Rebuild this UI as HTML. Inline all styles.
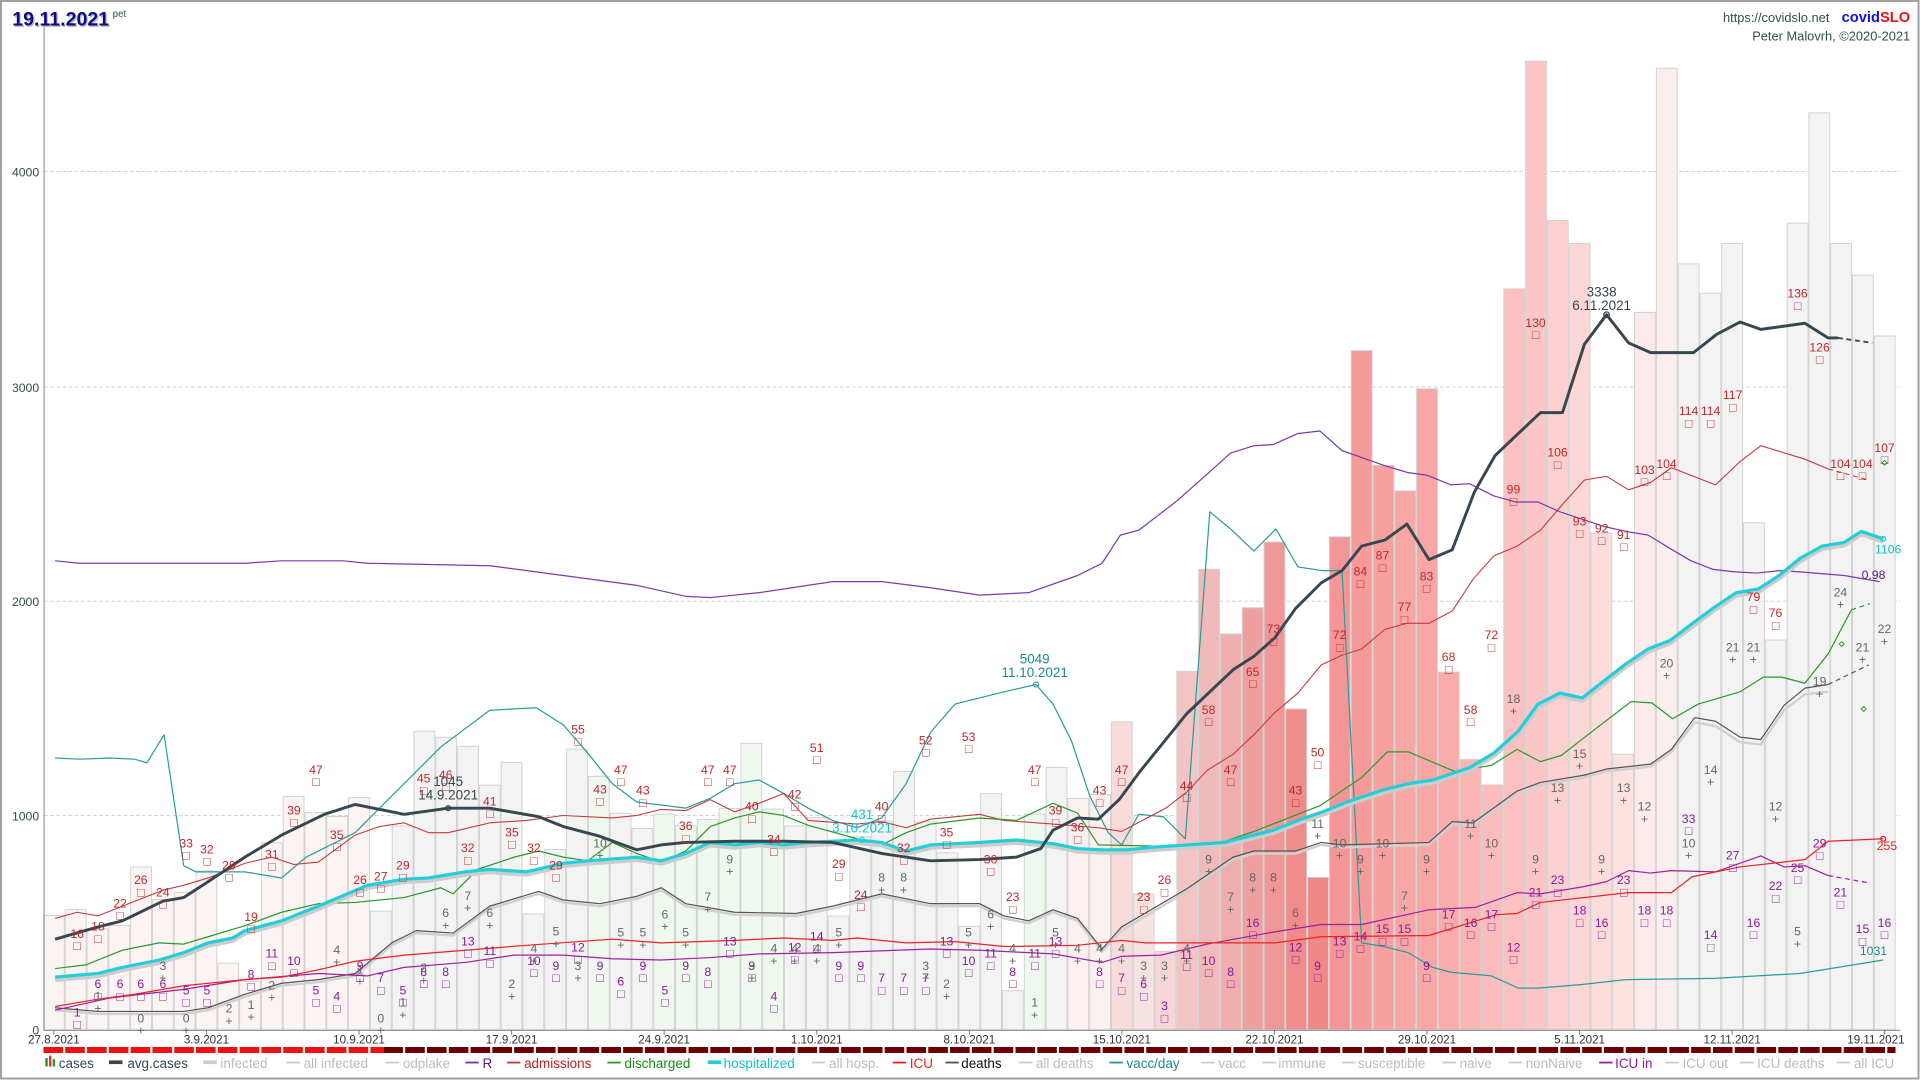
<!DOCTYPE html>
<html><head><meta charset="utf-8"><style>
html,body{margin:0;padding:0;background:#fff}
svg{display:block}
text{font-family:"Liberation Sans Narrow","Liberation Sans",sans-serif}
.r{fill:#c0282c;font-size:10px;text-anchor:middle}
.p{fill:#8a1a9a;font-size:10px;text-anchor:middle}
.g{fill:#666;font-size:10px;text-anchor:middle}
.lg{font-size:11px}
</style></head><body>
<svg width="1920" height="1080" viewBox="0 0 1568 882" preserveAspectRatio="none" xmlns="http://www.w3.org/2000/svg">
<rect x="0.8" y="0.8" width="1566" height="880" fill="#fff" stroke="#999" stroke-width="1.5"/>
<g stroke="#ccc" stroke-dasharray="3,2" stroke-width="0.7">
<line x1="36" y1="140" x2="1552" y2="140"/><line x1="36" y1="316" x2="1552" y2="316"/><line x1="36" y1="491" x2="1552" y2="491"/><line x1="36" y1="666" x2="1552" y2="666"/>
</g>
<g fill="#2f4f4f" font-size="10" text-anchor="end">
<text x="32" y="144">4000</text><text x="32" y="320">3000</text><text x="32" y="495">2000</text><text x="32" y="670">1000</text><text x="32" y="845">0</text>
</g>
<g stroke="#d2d2d2" stroke-width="0.8">
<g fill="#fcf3f3">
<rect x="35.5" y="747.6" width="17" height="93.4"/><rect x="53.3" y="742.9" width="17" height="98.1"/><rect x="71.1" y="758.6" width="17" height="82.4"/><rect x="88.9" y="755.8" width="17" height="85.2"/><rect x="106.7" y="708" width="17" height="133"/><rect x="124.5" y="734.6" width="17" height="106.4"/><rect x="142.3" y="728.8" width="17" height="112.2"/><rect x="160.1" y="711.3" width="17" height="129.7"/><rect x="177.9" y="786.5" width="17" height="54.5"/><rect x="195.7" y="801.4" width="17" height="39.6"/><rect x="213.5" y="688.2" width="17" height="152.8"/><rect x="231.3" y="650.5" width="17" height="190.5"/><rect x="249.1" y="663.6" width="17" height="177.4"/><rect x="266.9" y="666.8" width="17" height="174.2"/><rect x="284.7" y="651.4" width="17" height="189.6"/>
</g>
<g fill="#f3f3f3">
<rect x="302.5" y="744.1" width="17" height="96.9"/><rect x="320.3" y="674.5" width="17" height="166.5"/><rect x="338.1" y="597.2" width="17" height="243.8"/><rect x="355.9" y="602.1" width="17" height="238.9"/><rect x="373.7" y="609.5" width="17" height="231.5"/><rect x="391.5" y="641.2" width="17" height="199.8"/><rect x="409.3" y="622.6" width="17" height="218.4"/><rect x="427.1" y="746.4" width="17" height="94.6"/><rect x="444.9" y="693.8" width="17" height="147.2"/><rect x="462.7" y="611.8" width="17" height="229.2"/>
<rect x="498.3" y="664.2" width="17" height="176.8"/><rect x="516.1" y="676.6" width="17" height="164.4"/><rect x="640.7" y="674.5" width="17" height="166.5"/><rect x="658.5" y="667.7" width="17" height="173.3"/><rect x="676.3" y="748.1" width="17" height="92.9"/><rect x="694.1" y="683.3" width="17" height="157.7"/><rect x="711.9" y="670.5" width="17" height="170.5"/><rect x="729.7" y="630" width="17" height="211"/><rect x="747.5" y="671.2" width="17" height="169.8"/><rect x="765.3" y="696.4" width="17" height="144.6"/><rect x="783.1" y="756.4" width="17" height="84.6"/><rect x="800.9" y="648.2" width="17" height="192.8"/><rect x="818.7" y="809.1" width="17" height="31.9"/>
<rect x="1423.9" y="426.9" width="17" height="414.1"/><rect x="1441.7" y="522.7" width="17" height="318.3"/><rect x="1459.5" y="182.2" width="17" height="658.8"/><rect x="1477.3" y="92.2" width="17" height="748.8"/><rect x="1495.1" y="198.9" width="17" height="642.1"/><rect x="1512.9" y="224.8" width="17" height="616.2"/><rect x="1530.7" y="274.4" width="17" height="566.6"/>
<rect x="1370.5" y="215.5" width="17" height="625.5"/><rect x="1388.3" y="239.5" width="17" height="601.5"/><rect x="1406.1" y="198.9" width="17" height="642.1"/>
</g>
<g fill="#eef8ee">
<rect x="480.5" y="634" width="17" height="207"/><rect x="533.9" y="664.9" width="17" height="176.1"/><rect x="551.7" y="674.5" width="17" height="166.5"/><rect x="569.5" y="669.3" width="17" height="171.7"/><rect x="587.3" y="660.3" width="17" height="180.7"/><rect x="605.1" y="607" width="17" height="234"/><rect x="622.9" y="660.8" width="17" height="180.2"/><rect x="836.5" y="664.9" width="17" height="176.1"/>
</g>
<rect x="854.3" y="626.7" width="17" height="214.3" fill="#f3f3f3"/><rect x="872.1" y="652.1" width="17" height="188.9" fill="#fbf0f0"/><rect x="889.9" y="648.8" width="17" height="192.2" fill="#fbf0f0"/>
<rect x="907.7" y="589.5" width="17" height="251.5" fill="#f8dcdc"/><rect x="925.5" y="730.1" width="17" height="110.9" fill="#f7e2e2"/><rect x="943.3" y="777" width="17" height="64" fill="#f5d5d5"/><rect x="961.1" y="548.3" width="17" height="292.7" fill="#f3c4c4"/><rect x="978.9" y="464.9" width="17" height="376.1" fill="#f1baba"/><rect x="996.7" y="517.7" width="17" height="323.3" fill="#f0adad"/><rect x="1014.5" y="496.3" width="17" height="344.7" fill="#eea0a0"/><rect x="1032.3" y="442.7" width="17" height="398.3" fill="#f09898"/><rect x="1050.1" y="579" width="17" height="262" fill="#f08c8c"/><rect x="1067.9" y="716.6" width="17" height="124.4" fill="#f08888"/><rect x="1085.7" y="438.4" width="17" height="402.6" fill="#f59696"/><rect x="1103.5" y="286.3" width="17" height="554.7" fill="#f79a9a"/><rect x="1121.3" y="380.1" width="17" height="460.9" fill="#f8a0a0"/><rect x="1139.1" y="400.9" width="17" height="440.1" fill="#f9a6a6"/><rect x="1156.9" y="317.5" width="17" height="523.5" fill="#f9a6a6"/><rect x="1174.7" y="548.9" width="17" height="292.1" fill="#faacac"/><rect x="1192.5" y="620.2" width="17" height="220.8" fill="#fbb4b4"/><rect x="1210.3" y="641" width="17" height="200" fill="#fbbcbc"/><rect x="1228.1" y="235.9" width="17" height="605.1" fill="#fcc0c0"/><rect x="1245.9" y="49.9" width="17" height="791.1" fill="#fcc6c6"/><rect x="1263.7" y="180.1" width="17" height="660.9" fill="#fdd0d0"/><rect x="1281.5" y="198.9" width="17" height="642.1" fill="#fdd6d6"/><rect x="1299.3" y="435.3" width="17" height="405.7" fill="#fddcdc"/><rect x="1317.1" y="616" width="17" height="225" fill="#fde2e2"/><rect x="1334.9" y="255.1" width="17" height="585.9" fill="#fdeaea"/><rect x="1352.7" y="55.7" width="17" height="785.3" fill="#fdeeee"/>
</g>
<line x1="36" y1="22" x2="36" y2="842" stroke="#999" stroke-width="1"/>
<line x1="36" y1="841.5" x2="1552" y2="841.5" stroke="#999" stroke-width="1"/>
<g fill="none" stroke-linejoin="round">
<polyline stroke="#2a9d9a" stroke-width="1" points="45,619 65,620 90,619 110,620 120,623 134,600 150,707 160,712 200,712 230,717 250,700 290,680 330,640 360,610 400,580 438,578 460,592 480,615 500,640 520,655 560,660 580,652 600,640 620,637 640,648 660,660 680,670 700,676 720,668 740,640 760,598 780,575 800,570 820,565 846,559 860,575 875,605 890,650 905,680 916,690 930,665 950,667 968,685 988,418 1005,432 1024,450 1042,432 1060,463 1080,466 1096,466 1112,770 1130,773 1150,778 1170,790 1185,794 1218,797 1240,807 1256,807 1292,804 1328,800 1400,799 1470,795 1538,784"/>
<polyline stroke="#7a3aa8" stroke-width="1" points="45,458 65,460 200,460 230,458 280,458 300,460 400,462 460,470 520,478 560,487 580,488 620,484 680,475 720,475 760,480 800,486 840,484 880,470 900,460 915,437 930,433 960,410 985,388 1005,370 1024,364 1040,363 1060,354 1078,352 1096,368 1113,374 1130,380 1150,386 1165,388 1185,396 1200,395 1220,405 1238,410 1256,410 1274,418 1292,424 1310,430 1328,434 1346,437 1364,448 1381,458 1399,465 1417,467 1435,468 1453,466 1470,467 1506,470 1535,475"/>
<polyline stroke="#c43b3b" stroke-width="0.9" points="45,750 63,745 80,748 100,740 133,727 150,723 170,717 200,705 222,700 240,706 260,704 290,682 310,675 330,672 350,680 366,680 400,672 430,670 460,666 500,668 520,666 540,661 560,662 580,653 600,663 620,656 640,648 660,670 700,673 720,671 740,676 760,669 800,665 820,670 860,673 897,676 916,679 952,660 969,647 986,629 1007,616 1024,600 1041,582 1060,566 1079,543 1096,535 1112,530 1131,514 1149,509 1167,509 1186,499 1203,473 1220,454 1239,446 1258,433 1276,412 1294,392 1312,389 1330,400 1348,394 1365,382 1401,396 1421,377 1438,364 1474,375 1493,383"/>
<polyline stroke="#c43b3b" stroke-width="0.9" stroke-dasharray="4,3" points="1493,383 1526,392"/>
<polyline stroke="#d0d0d0" stroke-width="2" points="45,825 80,828 150,828 170,825 200,814 230,805 260,802 290,797 320,772 340,762 370,764 400,742 440,730 460,737 490,740 520,734 540,727 560,740 600,747 650,748 680,742 720,732 760,740 800,740 820,750 840,754 860,745 880,752 900,777 916,760 969,728 1007,702 1024,697 1058,697 1079,690 1096,692 1167,690 1186,673 1203,674 1239,648 1258,641 1294,635 1312,630 1348,626 1365,614 1384,590 1401,593 1421,606 1438,608 1457,580 1474,567 1493,565"/>
<polyline stroke="#555" stroke-width="1" points="45,823 80,826 150,826 170,823 200,812 230,803 260,800 290,795 320,770 340,760 370,762 400,740 440,728 460,735 490,738 520,732 540,725 560,738 600,745 650,746 680,740 720,730 760,738 800,738 820,748 840,752 860,743 880,750 900,775 916,757 969,726 1007,700 1024,695 1058,695 1079,688 1096,690 1167,688 1186,671 1203,672 1239,646 1258,639 1294,633 1312,628 1348,624 1365,612 1384,586 1401,589 1421,602 1438,604 1457,576 1474,562 1493,559"/>
<polyline stroke="#555" stroke-width="1" stroke-dasharray="4,3" points="1493,559 1526,543"/>
<polyline stroke="#a020a0" stroke-width="1" points="45,825 90,815 150,808 200,800 260,795 300,797 330,790 380,786 420,780 460,780 500,783 540,784 580,782 620,779 680,778 760,775 800,776 860,779 900,786 916,781 948,780 986,771 1041,761 1079,755 1112,755 1167,743 1205,741 1239,729 1258,730 1294,724 1312,720 1330,711 1348,713 1365,711 1401,712 1438,699 1457,708 1474,707 1493,715"/>
<polyline stroke="#a020a0" stroke-width="1" stroke-dasharray="4,3" points="1493,715 1526,721"/>
<polyline stroke="#ee2222" stroke-width="1" points="45,822 80,816 110,812 150,805 200,800 230,798 260,792 290,785 330,780 380,776 430,772 500,767 540,770 600,768 640,766 680,768 700,766 740,770 780,769 820,773 880,772 916,768 935,770 1041,770 1079,765 1167,764 1222,747 1239,746 1258,737 1330,729 1365,729 1382,716 1421,708 1474,702 1493,687 1538,685"/>
<polyline stroke="#2a9a2a" stroke-width="1" points="45,791 70,788 100,776 130,770 150,771 170,765 200,756 230,745 260,738 290,737 330,733 360,725 370,730 390,710 420,700 440,695 460,700 480,703 500,688 520,697 540,704 560,695 580,675 600,668 620,663 640,666 660,674 700,685 720,690 740,680 760,673 800,668 830,670 860,656 880,664 897,690 986,692 1024,679 1078,658 1112,635 1133,614 1150,614 1188,630 1218,625 1239,612 1258,622 1275,617 1302,596 1332,573 1349,574 1366,587 1387,575 1421,565 1440,553 1455,553 1474,558 1493,534 1512,498"/>
<polyline stroke="#2a9a2a" stroke-width="1" stroke-dasharray="4,3" points="1512,498 1527,493"/>
<polyline stroke="#ccc" stroke-width="5" transform="translate(0,1.5)" points="45,798 80,795 100,790 130,784 150,778 170,770 190,766 200,760 230,752 260,740 300,723 330,718 350,717 380,712 400,710 430,712 460,705 480,703 520,700 540,703 560,697 580,688 600,690 620,688 640,690 660,688 700,686 720,688 740,695 760,690 800,688 830,686 860,689 880,693 900,694 920,694 940,692 970,690 1000,688 1040,678 1060,670 1080,663 1100,655 1130,645 1150,640 1170,637 1200,627 1220,615 1240,597 1256,575 1274,566 1292,570 1310,556 1328,542 1346,530 1364,523 1381,510 1400,496 1418,484 1436,481 1453,470 1470,456 1488,446 1506,443 1520,434 1538,440"/>
<polyline stroke="#22cfd8" stroke-width="2.6" points="45,798 80,795 100,790 130,784 150,778 170,770 190,766 200,760 230,752 260,740 300,723 330,718 350,717 380,712 400,710 430,712 460,705 480,703 520,700 540,703 560,697 580,688 600,690 620,688 640,690 660,688 700,686 720,688 740,695 760,690 800,688 830,686 860,689 880,693 900,694 920,694 940,692 970,690 1000,688 1040,678 1060,670 1080,663 1100,655 1130,645 1150,640 1170,637 1200,627 1220,615 1240,597 1256,575 1274,566 1292,570 1310,556 1328,542 1346,530 1364,523 1381,510 1400,496 1418,484 1436,481 1453,470 1470,456 1488,446 1506,443 1520,434 1538,440"/>
<polyline stroke="#37474f" stroke-width="2.4" points="45,767 80,757 100,752 133,736 150,733 170,720 200,700 230,682 265,665 290,657 330,665 366,660 400,660 440,667 460,675 490,683 520,694 540,690 560,688 600,687 640,687 680,688 720,697 760,703 800,702 830,700 850,693 860,678 880,668 897,669 914,653 931,630 969,583 1007,547 1024,536 1041,521 1058,497 1079,476 1096,466 1112,446 1131,441 1149,428 1167,457 1186,449 1204,402 1221,372 1240,354 1258,337 1276,337 1294,281 1312,257 1330,280 1348,288 1383,288 1402,273 1421,263 1438,269 1474,264 1493,276 1501,276"/>
<polyline stroke="#37474f" stroke-width="1.5" stroke-dasharray="4,3" points="1501,276 1529,280"/>
</g>
<g fill="none" stroke-width="1">
<circle cx="366" cy="660" r="2" stroke="#37474f"/><circle cx="1312" cy="257" r="2.3" stroke="#37474f"/><circle cx="704" cy="686" r="2" stroke="#22cfd8"/><circle cx="846" cy="559" r="2" stroke="#2a9d9a"/><circle cx="1538" cy="440" r="2" stroke="#22cfd8"/><circle cx="1538" cy="685" r="2" stroke="#ee2222"/>
</g>
<g font-size="11" text-anchor="middle">
<text x="366" y="642" fill="#37474f">1045</text><text x="366" y="653" fill="#37474f">14.9.2021</text>
<text x="704" y="669" fill="#16c4cc">431</text><text x="704" y="680" fill="#16c4cc">3.10.2021</text>
<text x="845" y="542" fill="#1a8d8a">5049</text><text x="845" y="553" fill="#1a8d8a">11.10.2021</text>
<text x="1308" y="242" fill="#37474f">3338</text><text x="1308" y="253" fill="#37474f">6.11.2021</text>
</g>
<g font-size="10" text-anchor="middle">
<text x="1530" y="473" fill="#5a1a8a">0.98</text><text x="1542" y="452" fill="#16c4cc">1106</text><text x="1530" y="780" fill="#1a8d8a">1031</text><text x="1541" y="694" fill="#ee2222">255</text>
</g>
<g class="r">
<text x="63" y="766">16<tspan x="63" dy="10">□</tspan></text><text x="80" y="760">18<tspan x="80" dy="10">□</tspan></text><text x="98" y="741">22<tspan x="98" dy="10">□</tspan></text><text x="115" y="722">26<tspan x="115" dy="10">□</tspan></text><text x="133" y="732">24<tspan x="133" dy="10">□</tspan></text><text x="152" y="692">33<tspan x="152" dy="10">□</tspan></text><text x="169" y="697">32<tspan x="169" dy="10">□</tspan></text><text x="187" y="710">29<tspan x="187" dy="10">□</tspan></text><text x="205" y="752">19<tspan x="205" dy="10">□</tspan></text><text x="222" y="701">31<tspan x="222" dy="10">□</tspan></text><text x="240" y="665">39<tspan x="240" dy="10">□</tspan></text><text x="258" y="632">47<tspan x="258" dy="10">□</tspan></text><text x="275" y="685">35<tspan x="275" dy="10">□</tspan></text><text x="294" y="722">26<tspan x="294" dy="10">□</tspan></text><text x="311" y="719">27<tspan x="311" dy="10">□</tspan></text><text x="329" y="710">29<tspan x="329" dy="10">□</tspan></text><text x="346" y="639">45<tspan x="346" dy="10">□</tspan></text><text x="364" y="636">46<tspan x="364" dy="10">□</tspan></text><text x="382" y="696">32<tspan x="382" dy="10">□</tspan></text><text x="400" y="658">41<tspan x="400" dy="10">□</tspan></text><text x="418" y="683">35<tspan x="418" dy="10">□</tspan></text><text x="436" y="696">32<tspan x="436" dy="10">□</tspan></text><text x="454" y="710">29<tspan x="454" dy="10">□</tspan></text><text x="472" y="599">55<tspan x="472" dy="10">□</tspan></text><text x="490" y="648">43<tspan x="490" dy="10">□</tspan></text><text x="507" y="632">47<tspan x="507" dy="10">□</tspan></text><text x="525" y="649">43<tspan x="525" dy="10">□</tspan></text><text x="560" y="678">36<tspan x="560" dy="10">□</tspan></text><text x="578" y="632">47<tspan x="578" dy="10">□</tspan></text><text x="596" y="632">47<tspan x="596" dy="10">□</tspan></text><text x="614" y="662">40<tspan x="614" dy="10">□</tspan></text><text x="632" y="689">34<tspan x="632" dy="10">□</tspan></text><text x="649" y="652">42<tspan x="649" dy="10">□</tspan></text><text x="667" y="614">51<tspan x="667" dy="10">□</tspan></text><text x="685" y="709">29<tspan x="685" dy="10">□</tspan></text><text x="703" y="734">24<tspan x="703" dy="10">□</tspan></text><text x="720" y="662">40<tspan x="720" dy="10">□</tspan></text><text x="738" y="696">32<tspan x="738" dy="10">□</tspan></text><text x="756" y="608">52<tspan x="756" dy="10">□</tspan></text><text x="773" y="683">35<tspan x="773" dy="10">□</tspan></text><text x="791" y="605">53<tspan x="791" dy="10">□</tspan></text><text x="809" y="705">30<tspan x="809" dy="10">□</tspan></text><text x="827" y="736">23<tspan x="827" dy="10">□</tspan></text><text x="845" y="632">47<tspan x="845" dy="10">□</tspan></text><text x="862" y="665">39<tspan x="862" dy="10">□</tspan></text><text x="880" y="679">36<tspan x="880" dy="10">□</tspan></text><text x="898" y="649">43<tspan x="898" dy="10">□</tspan></text><text x="916" y="632">47<tspan x="916" dy="10">□</tspan></text><text x="934" y="736">23<tspan x="934" dy="10">□</tspan></text><text x="951" y="722">26<tspan x="951" dy="10">□</tspan></text><text x="969" y="645">44<tspan x="969" dy="10">□</tspan></text><text x="987" y="583">58<tspan x="987" dy="10">□</tspan></text><text x="1005" y="632">47<tspan x="1005" dy="10">□</tspan></text><text x="1023" y="552">65<tspan x="1023" dy="10">□</tspan></text><text x="1040" y="517">73<tspan x="1040" dy="10">□</tspan></text><text x="1058" y="649">43<tspan x="1058" dy="10">□</tspan></text><text x="1076" y="618">50<tspan x="1076" dy="10">□</tspan></text><text x="1094" y="522">72<tspan x="1094" dy="10">□</tspan></text><text x="1111" y="470">84<tspan x="1111" dy="10">□</tspan></text><text x="1129" y="457">87<tspan x="1129" dy="10">□</tspan></text><text x="1147" y="499">77<tspan x="1147" dy="10">□</tspan></text><text x="1165" y="474">83<tspan x="1165" dy="10">□</tspan></text><text x="1183" y="540">68<tspan x="1183" dy="10">□</tspan></text><text x="1201" y="583">58<tspan x="1201" dy="10">□</tspan></text><text x="1218" y="522">72<tspan x="1218" dy="10">□</tspan></text><text x="1236" y="403">99<tspan x="1236" dy="10">□</tspan></text><text x="1254" y="267">130<tspan x="1254" dy="10">□</tspan></text><text x="1272" y="373">106<tspan x="1272" dy="10">□</tspan></text><text x="1290" y="429">93<tspan x="1290" dy="10">□</tspan></text><text x="1308" y="435">92<tspan x="1308" dy="10">□</tspan></text><text x="1326" y="440">91<tspan x="1326" dy="10">□</tspan></text><text x="1343" y="387">103<tspan x="1343" dy="10">□</tspan></text><text x="1361" y="382">104<tspan x="1361" dy="10">□</tspan></text><text x="1379" y="339">114<tspan x="1379" dy="10">□</tspan></text><text x="1397" y="339">114<tspan x="1397" dy="10">□</tspan></text><text x="1415" y="326">117<tspan x="1415" dy="10">□</tspan></text><text x="1432" y="491">79<tspan x="1432" dy="10">□</tspan></text><text x="1450" y="504">76<tspan x="1450" dy="10">□</tspan></text><text x="1468" y="243">136<tspan x="1468" dy="10">□</tspan></text><text x="1486" y="287">126<tspan x="1486" dy="10">□</tspan></text><text x="1503" y="382">104<tspan x="1503" dy="10">□</tspan></text><text x="1521" y="382">104<tspan x="1521" dy="10">□</tspan></text><text x="1539" y="369">107<tspan x="1539" dy="10">□</tspan></text>
</g>
<g class="p">
<text x="63" y="830">1<tspan x="63" dy="10">□</tspan></text><text x="80" y="807">6<tspan x="80" dy="10">□</tspan></text><text x="98" y="807">6<tspan x="98" dy="10">□</tspan></text><text x="115" y="807">6<tspan x="115" dy="10">□</tspan></text><text x="133" y="807">6<tspan x="133" dy="10">□</tspan></text><text x="152" y="812">5<tspan x="152" dy="10">□</tspan></text><text x="169" y="812">5<tspan x="169" dy="10">□</tspan></text><text x="205" y="799">8<tspan x="205" dy="10">□</tspan></text><text x="222" y="782">11<tspan x="222" dy="10">□</tspan></text><text x="240" y="788">10<tspan x="240" dy="10">□</tspan></text><text x="258" y="812">5<tspan x="258" dy="10">□</tspan></text><text x="275" y="817">4<tspan x="275" dy="10">□</tspan></text><text x="294" y="792">9<tspan x="294" dy="10">□</tspan></text><text x="311" y="802">7<tspan x="311" dy="10">□</tspan></text><text x="329" y="812">5<tspan x="329" dy="10">□</tspan></text><text x="346" y="797">8<tspan x="346" dy="10">□</tspan></text><text x="364" y="797">8<tspan x="364" dy="10">□</tspan></text><text x="382" y="772">13<tspan x="382" dy="10">□</tspan></text><text x="400" y="780">11<tspan x="400" dy="10">□</tspan></text><text x="436" y="788">10<tspan x="436" dy="10">□</tspan></text><text x="454" y="792">9<tspan x="454" dy="10">□</tspan></text><text x="472" y="777">12<tspan x="472" dy="10">□</tspan></text><text x="490" y="792">9<tspan x="490" dy="10">□</tspan></text><text x="507" y="805">6<tspan x="507" dy="10">□</tspan></text><text x="525" y="792">9<tspan x="525" dy="10">□</tspan></text><text x="543" y="812">5<tspan x="543" dy="10">□</tspan></text><text x="560" y="792">9<tspan x="560" dy="10">□</tspan></text><text x="578" y="797">8<tspan x="578" dy="10">□</tspan></text><text x="596" y="772">13<tspan x="596" dy="10">□</tspan></text><text x="614" y="792">9<tspan x="614" dy="10">□</tspan></text><text x="632" y="817">4<tspan x="632" dy="10">□</tspan></text><text x="649" y="777">12<tspan x="649" dy="10">□</tspan></text><text x="667" y="768">14<tspan x="667" dy="10">□</tspan></text><text x="685" y="792">9<tspan x="685" dy="10">□</tspan></text><text x="703" y="792">9<tspan x="703" dy="10">□</tspan></text><text x="720" y="802">7<tspan x="720" dy="10">□</tspan></text><text x="738" y="802">7<tspan x="738" dy="10">□</tspan></text><text x="756" y="802">7<tspan x="756" dy="10">□</tspan></text><text x="773" y="772">13<tspan x="773" dy="10">□</tspan></text><text x="791" y="788">10<tspan x="791" dy="10">□</tspan></text><text x="809" y="782">11<tspan x="809" dy="10">□</tspan></text><text x="827" y="797">8<tspan x="827" dy="10">□</tspan></text><text x="845" y="782">11<tspan x="845" dy="10">□</tspan></text><text x="862" y="772">13<tspan x="862" dy="10">□</tspan></text><text x="898" y="797">8<tspan x="898" dy="10">□</tspan></text><text x="916" y="802">7<tspan x="916" dy="10">□</tspan></text><text x="934" y="807">6<tspan x="934" dy="10">□</tspan></text><text x="951" y="825">3<tspan x="951" dy="10">□</tspan></text><text x="969" y="783">11<tspan x="969" dy="10">□</tspan></text><text x="987" y="788">10<tspan x="987" dy="10">□</tspan></text><text x="1005" y="797">8<tspan x="1005" dy="10">□</tspan></text><text x="1023" y="757">16<tspan x="1023" dy="10">□</tspan></text><text x="1058" y="777">12<tspan x="1058" dy="10">□</tspan></text><text x="1076" y="792">9<tspan x="1076" dy="10">□</tspan></text><text x="1094" y="772">13<tspan x="1094" dy="10">□</tspan></text><text x="1111" y="768">14<tspan x="1111" dy="10">□</tspan></text><text x="1129" y="762">15<tspan x="1129" dy="10">□</tspan></text><text x="1147" y="762">15<tspan x="1147" dy="10">□</tspan></text><text x="1165" y="792">9<tspan x="1165" dy="10">□</tspan></text><text x="1183" y="750">17<tspan x="1183" dy="10">□</tspan></text><text x="1201" y="757">16<tspan x="1201" dy="10">□</tspan></text><text x="1218" y="750">17<tspan x="1218" dy="10">□</tspan></text><text x="1236" y="777">12<tspan x="1236" dy="10">□</tspan></text><text x="1254" y="732">21<tspan x="1254" dy="10">□</tspan></text><text x="1272" y="722">23<tspan x="1272" dy="10">□</tspan></text><text x="1290" y="747">18<tspan x="1290" dy="10">□</tspan></text><text x="1308" y="757">16<tspan x="1308" dy="10">□</tspan></text><text x="1326" y="722">23<tspan x="1326" dy="10">□</tspan></text><text x="1343" y="747">18<tspan x="1343" dy="10">□</tspan></text><text x="1361" y="747">18<tspan x="1361" dy="10">□</tspan></text><text x="1379" y="672">33<tspan x="1379" dy="10">□</tspan></text><text x="1397" y="767">14<tspan x="1397" dy="10">□</tspan></text><text x="1415" y="702">27<tspan x="1415" dy="10">□</tspan></text><text x="1432" y="757">16<tspan x="1432" dy="10">□</tspan></text><text x="1450" y="727">22<tspan x="1450" dy="10">□</tspan></text><text x="1468" y="712">25<tspan x="1468" dy="10">□</tspan></text><text x="1486" y="692">29<tspan x="1486" dy="10">□</tspan></text><text x="1503" y="732">21<tspan x="1503" dy="10">□</tspan></text><text x="1521" y="762">15<tspan x="1521" dy="10">□</tspan></text><text x="1539" y="757">16<tspan x="1539" dy="10">□</tspan></text>
</g>
<g class="g">
<text x="80" y="817">1<tspan x="80" dy="10">+</tspan></text><text x="115" y="835">0<tspan x="115" dy="10">+</tspan></text><text x="133" y="792">3<tspan x="133" dy="10">+</tspan></text><text x="152" y="835">0<tspan x="152" dy="10">+</tspan></text><text x="187" y="827">2<tspan x="187" dy="10">+</tspan></text><text x="205" y="824">1<tspan x="205" dy="10">+</tspan></text><text x="222" y="808">2<tspan x="222" dy="10">+</tspan></text><text x="275" y="779">4<tspan x="275" dy="10">+</tspan></text><text x="294" y="795">1<tspan x="294" dy="10">+</tspan></text><text x="311" y="835">0<tspan x="311" dy="10">+</tspan></text><text x="329" y="822">1<tspan x="329" dy="10">+</tspan></text><text x="346" y="794">2<tspan x="346" dy="10">+</tspan></text><text x="364" y="749">6<tspan x="364" dy="10">+</tspan></text><text x="382" y="735">7<tspan x="382" dy="10">+</tspan></text><text x="400" y="749">6<tspan x="400" dy="10">+</tspan></text><text x="418" y="807">2<tspan x="418" dy="10">+</tspan></text><text x="436" y="778">4<tspan x="436" dy="10">+</tspan></text><text x="454" y="764">5<tspan x="454" dy="10">+</tspan></text><text x="472" y="792">3<tspan x="472" dy="10">+</tspan></text><text x="490" y="692">10<tspan x="490" dy="10">+</tspan></text><text x="507" y="765">5<tspan x="507" dy="10">+</tspan></text><text x="525" y="765">5<tspan x="525" dy="10">+</tspan></text><text x="543" y="750">6<tspan x="543" dy="10">+</tspan></text><text x="560" y="765">5<tspan x="560" dy="10">+</tspan></text><text x="578" y="736">7<tspan x="578" dy="10">+</tspan></text><text x="596" y="705">9<tspan x="596" dy="10">+</tspan></text><text x="614" y="792">3<tspan x="614" dy="10">+</tspan></text><text x="632" y="778">4<tspan x="632" dy="10">+</tspan></text><text x="649" y="778">4<tspan x="649" dy="10">+</tspan></text><text x="667" y="778">4<tspan x="667" dy="10">+</tspan></text><text x="685" y="765">5<tspan x="685" dy="10">+</tspan></text><text x="720" y="720">8<tspan x="720" dy="10">+</tspan></text><text x="738" y="720">8<tspan x="738" dy="10">+</tspan></text><text x="756" y="792">3<tspan x="756" dy="10">+</tspan></text><text x="773" y="807">2<tspan x="773" dy="10">+</tspan></text><text x="791" y="765">5<tspan x="791" dy="10">+</tspan></text><text x="809" y="750">6<tspan x="809" dy="10">+</tspan></text><text x="827" y="778">4<tspan x="827" dy="10">+</tspan></text><text x="845" y="822">1<tspan x="845" dy="10">+</tspan></text><text x="862" y="765">5<tspan x="862" dy="10">+</tspan></text><text x="880" y="778">4<tspan x="880" dy="10">+</tspan></text><text x="898" y="778">4<tspan x="898" dy="10">+</tspan></text><text x="916" y="778">4<tspan x="916" dy="10">+</tspan></text><text x="934" y="792">3<tspan x="934" dy="10">+</tspan></text><text x="951" y="792">3<tspan x="951" dy="10">+</tspan></text><text x="969" y="778">4<tspan x="969" dy="10">+</tspan></text><text x="987" y="705">9<tspan x="987" dy="10">+</tspan></text><text x="1005" y="736">7<tspan x="1005" dy="10">+</tspan></text><text x="1023" y="720">8<tspan x="1023" dy="10">+</tspan></text><text x="1040" y="720">8<tspan x="1040" dy="10">+</tspan></text><text x="1058" y="749">6<tspan x="1058" dy="10">+</tspan></text><text x="1076" y="676">11<tspan x="1076" dy="10">+</tspan></text><text x="1094" y="692">10<tspan x="1094" dy="10">+</tspan></text><text x="1111" y="705">9<tspan x="1111" dy="10">+</tspan></text><text x="1129" y="692">10<tspan x="1129" dy="10">+</tspan></text><text x="1147" y="735">7<tspan x="1147" dy="10">+</tspan></text><text x="1165" y="705">9<tspan x="1165" dy="10">+</tspan></text><text x="1201" y="676">11<tspan x="1201" dy="10">+</tspan></text><text x="1218" y="692">10<tspan x="1218" dy="10">+</tspan></text><text x="1236" y="574">18<tspan x="1236" dy="10">+</tspan></text><text x="1254" y="705">9<tspan x="1254" dy="10">+</tspan></text><text x="1272" y="647">13<tspan x="1272" dy="10">+</tspan></text><text x="1290" y="619">15<tspan x="1290" dy="10">+</tspan></text><text x="1308" y="705">9<tspan x="1308" dy="10">+</tspan></text><text x="1326" y="647">13<tspan x="1326" dy="10">+</tspan></text><text x="1343" y="662">12<tspan x="1343" dy="10">+</tspan></text><text x="1361" y="545">20<tspan x="1361" dy="10">+</tspan></text><text x="1379" y="692">10<tspan x="1379" dy="10">+</tspan></text><text x="1397" y="632">14<tspan x="1397" dy="10">+</tspan></text><text x="1415" y="532">21<tspan x="1415" dy="10">+</tspan></text><text x="1432" y="532">21<tspan x="1432" dy="10">+</tspan></text><text x="1450" y="662">12<tspan x="1450" dy="10">+</tspan></text><text x="1468" y="764">5<tspan x="1468" dy="10">+</tspan></text><text x="1486" y="560">19<tspan x="1486" dy="10">+</tspan></text><text x="1503" y="487">24<tspan x="1503" dy="10">+</tspan></text><text x="1521" y="532">21<tspan x="1521" dy="10">+</tspan></text><text x="1539" y="517">22<tspan x="1539" dy="10">+</tspan></text>
</g>
<g fill="none" stroke="#2a9a2a" stroke-width="0.8"><path d="M1504,524 l2,2 -2,2 -2,-2z"/><path d="M1522,577 l2,2 -2,2 -2,-2z"/><path d="M1539,376 l2,2 -2,2 -2,-2z"/></g>
<g stroke="#777" stroke-width="0.8">
<line x1="44" y1="841" x2="44" y2="845"/><line x1="168.6" y1="841" x2="168.6" y2="845"/><line x1="293.2" y1="841" x2="293.2" y2="845"/><line x1="417.8" y1="841" x2="417.8" y2="845"/><line x1="542.4" y1="841" x2="542.4" y2="845"/><line x1="667" y1="841" x2="667" y2="845"/><line x1="791.6" y1="841" x2="791.6" y2="845"/><line x1="916.2" y1="841" x2="916.2" y2="845"/><line x1="1040.8" y1="841" x2="1040.8" y2="845"/><line x1="1165.4" y1="841" x2="1165.4" y2="845"/><line x1="1290" y1="841" x2="1290" y2="845"/><line x1="1414.6" y1="841" x2="1414.6" y2="845"/><line x1="1539.2" y1="841" x2="1539.2" y2="845"/>
</g>
<g fill="#333" font-size="9.5" text-anchor="middle">
<text x="44" y="852">27.8.2021</text><text x="168.6" y="852">3.9.2021</text><text x="293.2" y="852">10.9.2021</text><text x="417.8" y="852">17.9.2021</text><text x="542.4" y="852">24.9.2021</text><text x="667" y="852">1.10.2021</text><text x="791.6" y="852">8.10.2021</text><text x="916.2" y="852">15.10.2021</text><text x="1040.8" y="852">22.10.2021</text><text x="1165.4" y="852">29.10.2021</text><text x="1290" y="852">5.11.2021</text><text x="1414.6" y="852">12.11.2021</text><text x="1532" y="852">19.11.2021</text>
</g>
<line x1="35.5" y1="857.5" x2="313" y2="857.5" stroke="#ee1111" stroke-width="5" stroke-dasharray="16,1.8"/>
<line x1="313.1" y1="857.5" x2="1548" y2="857.5" stroke="#6b0000" stroke-width="5" stroke-dasharray="16,1.8"/>
<g class="lg">
<rect x="37" y="864" width="2" height="7" fill="#2a9a2a"/><rect x="40" y="862" width="2" height="9" fill="#e33"/><rect x="43" y="865" width="2" height="6" fill="#2a9a2a"/>
<text x="48" y="872" fill="#37474f">cases</text>
<rect x="89" y="866" width="11" height="3" fill="#37474f"/><text x="104" y="872" fill="#37474f">avg.cases</text>
<rect x="166" y="866" width="11" height="3" fill="#ccc"/><text x="180" y="872" fill="#bbb">infected</text>
<rect x="234" y="867" width="11" height="1.5" fill="#ccc"/><text x="248" y="872" fill="#bbb">all infected</text>
<rect x="315" y="867" width="11" height="1.5" fill="#ccc"/><text x="329" y="872" fill="#bbb">odplake</text>
<rect x="380" y="867" width="11" height="1.5" fill="#7a3aa8"/><text x="394" y="872" fill="#5a1a8a">R</text>
<rect x="414" y="867" width="11" height="1.5" fill="#c43b3b"/><text x="428" y="872" fill="#b22">admissions</text>
<rect x="496" y="867" width="11" height="1.5" fill="#2a9a2a"/><text x="510" y="872" fill="#1a8a1a">discharged</text>
<rect x="578" y="866" width="11" height="3" fill="#22cfd8"/><text x="591" y="872" fill="#16c4cc">hospitalized</text>
<rect x="663" y="867" width="11" height="1.5" fill="#ccc"/><text x="677" y="872" fill="#bbb">all hosp.</text>
<rect x="729" y="867" width="11" height="1.5" fill="#ee2222"/><text x="743" y="872" fill="#ee2222">ICU</text>
<rect x="772" y="867" width="11" height="1.5" fill="#555"/><text x="785" y="872" fill="#111">deaths</text>
<rect x="832" y="867" width="11" height="1.5" fill="#ccc"/><text x="846" y="872" fill="#bbb">all deaths</text>
<rect x="906" y="867" width="11" height="1.5" fill="#2a9d9a"/><text x="920" y="872" fill="#1a8d8a">vacc/day</text>
<rect x="981" y="867" width="11" height="1.5" fill="#ccc"/><text x="995" y="872" fill="#bbb">vacc</text>
<rect x="1031" y="867" width="11" height="1.5" fill="#ccc"/><text x="1044" y="872" fill="#bbb">immune</text>
<rect x="1096" y="867" width="11" height="1.5" fill="#ccc"/><text x="1109" y="872" fill="#bbb">susceptible</text>
<rect x="1178" y="867" width="11" height="1.5" fill="#ccc"/><text x="1192" y="872" fill="#bbb">naive</text>
<rect x="1232" y="867" width="11" height="1.5" fill="#ccc"/><text x="1246" y="872" fill="#bbb">nonNaive</text>
<rect x="1306" y="867" width="11" height="1.5" fill="#a020a0"/><text x="1319" y="872" fill="#8a1a9a">ICU in</text>
<rect x="1360" y="867" width="11" height="1.5" fill="#ccc"/><text x="1374" y="872" fill="#bbb">ICU out</text>
<rect x="1421" y="867" width="11" height="1.5" fill="#ccc"/><text x="1435" y="872" fill="#bbb">ICU deaths</text>
<rect x="1500" y="867" width="11" height="1.5" fill="#ccc"/><text x="1514" y="872" fill="#bbb">all ICU</text>
</g>
<text x="11" y="22" font-size="16" font-weight="bold" fill="#bbb" font-family="Liberation Sans">19.11.2021</text>
<text x="10" y="21" font-size="16" font-weight="bold" fill="#0b0b8a" font-family="Liberation Sans">19.11.2021</text>
<text x="92" y="14" font-size="8" fill="#2f4f4f">pet</text>
<text x="1494" y="18" font-size="10.5" fill="#2f4f4f" text-anchor="end">https://covidslo.net</text>
<text x="1560" y="18" font-size="12" font-weight="bold" text-anchor="end" font-family="Liberation Sans"><tspan fill="#1111dd">covid</tspan><tspan fill="#ee1111">SLO</tspan></text>
<text x="1560" y="33" font-size="10.5" fill="#2f4f4f" text-anchor="end">Peter Malovrh, ©2020-2021</text>
</svg>
</body></html>
